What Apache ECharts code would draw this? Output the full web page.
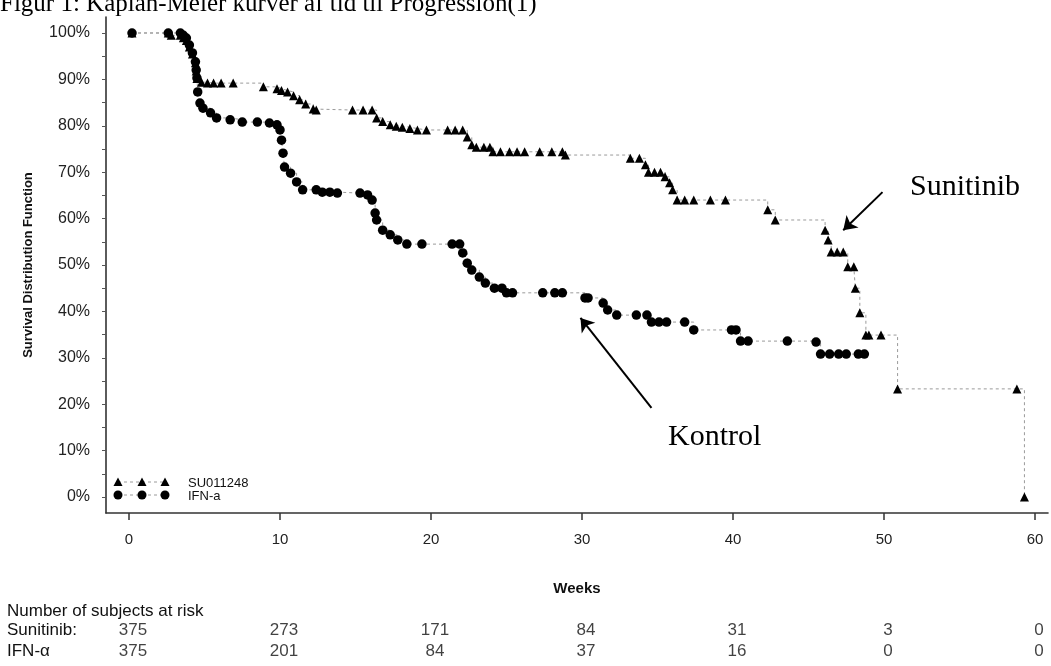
<!DOCTYPE html>
<html><head><meta charset="utf-8">
<script src="https://cdn.jsdelivr.net/npm/echarts@6/dist/echarts.min.js"></script>
<style>html,body{margin:0;padding:0;background:#fff}#c{width:1051px;height:666px}</style>
</head><body><div id="c"></div>
<script>
// ---- data ----
const sunWeeks = [0.2,2.6,2.8,3.4,3.6,3.8,4.0,4.2,4.4,4.45,4.5,4.8,5.2,5.6,6.1,6.9,8.9,9.8,10.1,10.5,10.9,11.3,11.7,12.2,12.4,14.8,15.5,16.1,16.4,16.8,17.3,17.7,18.1,18.6,19.1,19.7,21.1,21.6,22.1,22.4,22.7,23.0,23.5,23.9,24.1,24.6,25.2,25.7,26.2,27.2,28.0,28.7,28.9,33.2,33.8,34.2,34.4,34.8,35.2,35.5,35.8,36.0,36.3,36.8,37.4,38.5,39.5,42.3,42.8,46.1,46.3,46.5,46.9,47.3,47.6,48.0,48.1,48.4,48.8,49.0,49.8,50.9,58.8,59.3];
const sunSurv = [100,100,99.5,99.5,99,98.4,97,95.5,93.6,91.8,90.2,89.4,89.2,89.2,89.2,89.2,88.4,88,87.6,87.3,86.5,85.6,84.7,83.6,83.4,83.4,83.4,83.4,81.7,80.9,80.2,79.9,79.7,79.4,79.1,79.1,79.1,79.1,79.1,77.6,75.9,75.4,75.4,75.4,74.4,74.4,74.4,74.4,74.4,74.4,74.4,74.4,73.7,73.0,73.0,71.6,70.0,70.0,70.0,69.0,67.7,66.2,64.0,64.0,64.0,64.0,64.0,61.9,59.7,57.5,55.4,52.8,52.8,52.8,49.6,49.6,45.0,39.7,34.9,34.9,34.9,23.3,23.3,0];
const ifnWeeks = [0.2,2.6,3.4,3.6,3.8,4.0,4.2,4.4,4.45,4.5,4.55,4.7,4.9,5.4,5.8,6.7,7.5,8.5,9.3,9.8,10.0,10.1,10.2,10.3,10.7,11.1,11.5,12.4,12.8,13.3,13.8,15.3,15.8,16.1,16.3,16.4,16.8,17.3,17.8,18.4,19.4,21.4,21.9,22.1,22.4,22.7,23.2,23.6,24.2,24.7,25.0,25.4,27.4,28.2,28.7,30.2,30.4,31.4,31.7,32.3,33.6,34.3,34.6,35.1,35.6,36.8,37.4,39.9,40.2,40.5,41.0,43.6,45.5,45.8,46.4,47.0,47.5,48.3,48.7];
const ifnSurv = [100,100,100,99.5,98.9,97.4,95.7,93.8,92,90.3,87.3,84.9,83.8,82.8,81.7,81.3,80.8,80.8,80.6,80.2,79.1,76.9,74.1,71.1,69.8,67.9,66.2,66.2,65.7,65.7,65.5,65.5,65.1,64,61.2,59.7,57.5,56.5,55.4,54.5,54.5,54.5,54.5,52.6,50.4,48.9,47.4,46.1,45,45,44,44,44,44,44,42.9,42.9,41.8,40.3,39.2,39.2,39.2,37.7,37.7,37.7,37.7,36,36,36,33.6,33.6,33.6,33.4,30.8,30.8,30.8,30.8,30.8,30.8];
const seriesNames = ['SU011248', 'IFN-a'];
const xTicks = [0,10,20,30,40,50,60];
const yTicks = [0,10,20,30,40,50,60,70,80,90,100];
const yMinorTicks = [5,15,25,35,45,55,65,75,85,95];
const riskWeeks = [0,10,20,30,40,50,60];
const riskRows = ['Sunitinib:', 'IFN-\u03b1'];
const riskSun = [375,273,171,84,31,3,0];
const riskIfn = [375,201,84,37,16,0,0];
const sunArrow = [[49.9,65.7],[47.3,57.5]];
const konArrow = [[34.6,19.2],[29.9,38.6]];

const ARIAL = '"Liberation Sans", Arial, Helvetica, sans-serif';
const SERIF = '"Liberation Serif", "Times New Roman", serif';

const zip = (a, b) => a.map((v, i) => [v, b[i]]);
const lineStyle = { color: '#9a9a9a', width: 1, type: [3, 3] };

function arrowLine(pts) {
  return {
    silent: true, symbol: ['none', 'arrow'], symbolSize: 13, animation: false,
    label: { show: false },
    lineStyle: { color: '#000', width: 2, type: 'solid' },
    emphasis: { disabled: true },
    data: [[{ coord: pts[0] }, { coord: pts[1] }]]
  };
}

const chart = echarts.init(document.getElementById('c'), null, { renderer: 'canvas' });

const legendG = [];
[118, 142, 165].forEach(x => {
  legendG.push({ type: 'polygon', z: 100, shape: { points: [[x, 477.5], [x - 4.5, 486], [x + 4.5, 486]] }, style: { fill: '#000' } });
  legendG.push({ type: 'circle', z: 100, shape: { cx: x, cy: 495, r: 4.5 }, style: { fill: '#000' } });
});
legendG.push({ type: 'line', z: 99, shape: { x1: 118, y1: 482, x2: 165, y2: 482 }, style: { stroke: '#9a9a9a', lineWidth: 1, lineDash: [3, 3] } });
legendG.push({ type: 'line', z: 99, shape: { x1: 118, y1: 495, x2: 165, y2: 495 }, style: { stroke: '#9a9a9a', lineWidth: 1, lineDash: [3, 3] } });
legendG.push({ type: 'text', z: 100, x: 188, y: 483, style: { text: seriesNames[0], font: '13px ' + ARIAL, fill: '#111', verticalAlign: 'middle' } });
legendG.push({ type: 'text', z: 100, x: 188, y: 496, style: { text: seriesNames[1], font: '13px ' + ARIAL, fill: '#111', verticalAlign: 'middle' } });

const option = {
  animation: false,
  backgroundColor: '#fff',
  grid: [
    { left: 106, right: 3, top: 17, bottom: 153 },
    { left: 129, right: 16, top: 620, height: 42 }
  ],
  xAxis: [
    {
      gridIndex: 0, type: 'value', min: -1.523, max: 60.861,
      axisLine: { show: true, onZero: false, lineStyle: { color: '#333', width: 1.6 } },
      axisTick: { show: true, customValues: xTicks, length: 7, lineStyle: { color: '#333', width: 1.5 } },
      axisLabel: { customValues: xTicks, margin: 19, fontFamily: ARIAL, fontSize: 15, color: '#222' },
      splitLine: { show: false },
      name: 'Weeks', nameLocation: 'middle', nameGap: 68,
      nameTextStyle: { fontFamily: ARIAL, fontSize: 15, fontWeight: 'bold', color: '#111' }
    },
    { gridIndex: 1, type: 'value', min: 0, max: 60, show: false }
  ],
  yAxis: [
    {
      gridIndex: 0, type: 'value', min: -3.448, max: 103.448,
      axisLine: { show: true, onZero: false, lineStyle: { color: '#333', width: 1.6 } },
      axisTick: { show: true, customValues: yTicks.concat(yMinorTicks), length: 4, lineStyle: { color: '#555' } },
      axisLabel: { customValues: yTicks, margin: 16, formatter: '{value}%', fontFamily: ARIAL, fontSize: 16, color: '#222' },
      splitLine: { show: false },
      name: 'Survival Distribution Function', nameLocation: 'middle', nameRotate: 90, nameGap: 71,
      nameTextStyle: { fontFamily: ARIAL, fontSize: 13, fontWeight: 'bold', color: '#111' }
    },
    {
      gridIndex: 1, type: 'category', data: riskRows, inverse: true,
      axisLine: { show: false }, axisTick: { show: false }, splitLine: { show: false },
      axisLabel: { interval: 0, align: 'left', margin: 122, fontFamily: ARIAL, fontSize: 17, color: '#111' }
    }
  ],
  series: [
    {
      name: seriesNames[0], type: 'line', step: 'end', xAxisIndex: 0, yAxisIndex: 0,
      data: zip(sunWeeks, sunSurv), symbol: 'triangle', symbolSize: 9, showSymbol: true,
      itemStyle: { color: '#000' }, lineStyle: lineStyle, z: 3,
      markLine: arrowLine(sunArrow)
    },
    {
      name: seriesNames[1], type: 'line', step: 'end', xAxisIndex: 0, yAxisIndex: 0,
      data: zip(ifnWeeks, ifnSurv), symbol: 'circle', symbolSize: 9.5, showSymbol: true,
      itemStyle: { color: '#000' }, lineStyle: lineStyle, z: 3,
      markLine: arrowLine(konArrow)
    },
    {
      type: 'scatter', xAxisIndex: 1, yAxisIndex: 1, silent: true,
      symbolSize: 1, itemStyle: { color: 'rgba(0,0,0,0)' },
      data: riskWeeks.map((w, i) => [w, riskRows[0], riskSun[i]])
        .concat(riskWeeks.map((w, i) => [w, riskRows[1], riskIfn[i]])),
      label: { show: true, position: 'inside', offset: [4, 0], formatter: p => String(p.value[2]),
        fontFamily: ARIAL, fontSize: 17, color: '#111' }
    }
  ],
  graphic: [
    { type: 'text', x: 0, y: 4.6, style: { text: 'Figur 1: Kaplan-Meier kurver af tid til Progression(1)', font: '25px ' + SERIF, fill: '#000', verticalAlign: 'middle' } },
    { type: 'text', x: 910, y: 187, style: { text: 'Sunitinib', font: '30px ' + SERIF, fill: '#000', verticalAlign: 'middle' } },
    { type: 'text', x: 668, y: 437, style: { text: 'Kontrol', font: '30px ' + SERIF, fill: '#000', verticalAlign: 'middle' } },
    { type: 'text', x: 7, y: 611, style: { text: 'Number of subjects at risk', font: '17px ' + ARIAL, fill: '#111', verticalAlign: 'middle' } }
  ].concat(legendG)
};
chart.setOption(option);
</script>
</body></html>
